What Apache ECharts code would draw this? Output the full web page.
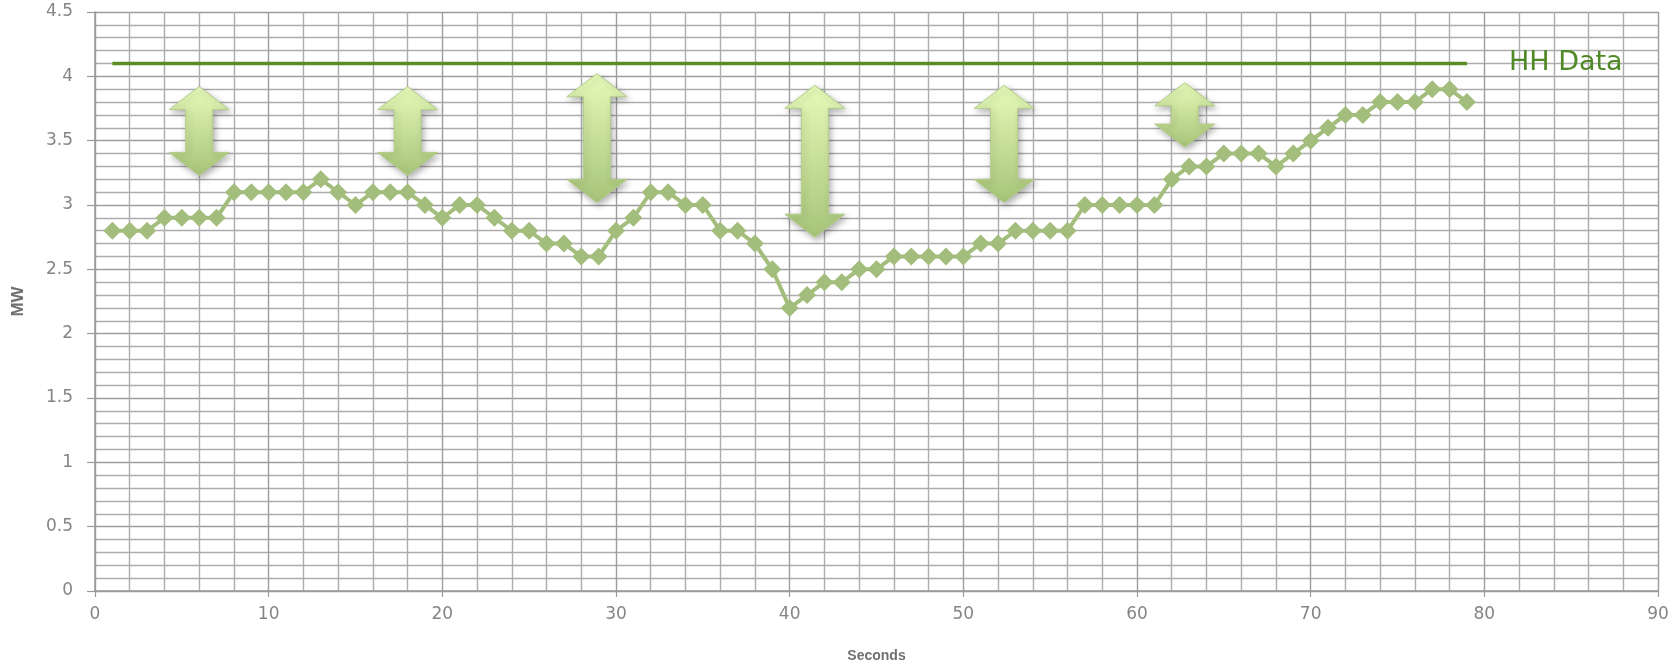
<!DOCTYPE html>
<html>
<head>
<meta charset="utf-8">
<script src="https://cdn.jsdelivr.net/npm/echarts@6/dist/echarts.min.js"></script>
<style>
html,body{margin:0;padding:0;background:#fff;}
#chart{width:1680px;height:668px;}
</style>
</head>
<body>
<div id="chart"></div>
<script>
// ---- data ----
const seconds = [1,2,3,4,5,6,7,8,9,10,11,12,13,14,15,16,17,18,19,20,
  21,22,23,24,25,26,27,28,29,30,31,32,33,34,35,36,37,38,39,40,
  41,42,43,44,45,46,47,48,49,50,51,52,53,54,55,56,57,58,59,60,
  61,62,63,64,65,66,67,68,69,70,71,72,73,74,75,76,77,78,79];
const mw = [2.8,2.8,2.8,2.9,2.9,2.9,2.9,3.1,3.1,3.1,3.1,3.1,3.2,3.1,3.0,3.1,3.1,3.1,3.0,2.9,
  3.0,3.0,2.9,2.8,2.8,2.7,2.7,2.6,2.6,2.8,2.9,3.1,3.1,3.0,3.0,2.8,2.8,2.7,2.5,2.2,
  2.3,2.4,2.4,2.5,2.5,2.6,2.6,2.6,2.6,2.6,2.7,2.7,2.8,2.8,2.8,2.8,3.0,3.0,3.0,3.0,
  3.0,3.2,3.3,3.3,3.4,3.4,3.4,3.3,3.4,3.5,3.6,3.7,3.7,3.8,3.8,3.8,3.9,3.9,3.8];
const hhValue = 4.1;
const hhLabel = 'HH Data';
// double-headed arrow annotations: seconds, top MW, bottom MW
const arrowX = [6, 18, 28.9, 41.45, 52.35, 62.75];
const arrowTop = [3.92, 3.92, 4.02, 3.93, 3.93, 3.95];
const arrowBottom = [3.23, 3.23, 3.02, 2.75, 3.02, 3.45];
const xTicks = {min: 0, max: 90, interval: 10};
const yTicks = {min: 0, max: 4.5, interval: 0.5};

const mwData = seconds.map((s, i) => [s, mw[i]]);
const hhData = seconds.map(s => [s, hhValue]);
const arrowData = arrowX.map((x, i) => [x, arrowTop[i], arrowBottom[i]]);

const chart = echarts.init(document.getElementById('chart'), null, {renderer: 'canvas'});
const gridColor = '#adadad';
const labelFont = 'DejaVu Sans, Liberation Sans, sans-serif';

function renderArrow(params, api) {
  const x = api.value(0);
  const t = api.coord([x, api.value(1)]);
  const b = api.coord([x, api.value(2)]);
  const cx = t[0], yt = t[1], yb = b[1];
  const hw = 30, sw = 13.5, hh = 23;
  const pts = [
    [cx, yt], [cx + hw, yt + hh], [cx + sw, yt + hh], [cx + sw, yb - hh],
    [cx + hw, yb - hh], [cx, yb], [cx - hw, yb - hh], [cx - sw, yb - hh],
    [cx - sw, yt + hh], [cx - hw, yt + hh]
  ];
  return {
    type: 'polygon',
    shape: {points: pts},
    style: {
      fill: new echarts.graphic.LinearGradient(0, 0, 0, 1, [
        {offset: 0, color: '#e6fab9'},
        {offset: 1, color: '#a7c478'}
      ]),
      stroke: '#b3cd88',
      lineWidth: 1,
      shadowBlur: 6,
      shadowColor: 'rgba(0,0,0,0.3)',
      shadowOffsetX: 2,
      shadowOffsetY: 3
    }
  };
}

chart.setOption({
  backgroundColor: '#ffffff',
  animation: false,
  grid: {left: 95, right: 22, top: 12, bottom: 64, containLabel: false},
  xAxis: {
    type: 'value',
    min: xTicks.min, max: xTicks.max, interval: xTicks.interval,
    name: 'Seconds',
    nameLocation: 'middle',
    nameGap: 58,
    nameTextStyle: {color: '#707070', fontWeight: 'bold', fontSize: 14, fontFamily: 'Liberation Sans, sans-serif'},
    axisLine: {show: true, lineStyle: {color: '#9a9a9a', width: 1.5}},
    axisTick: {show: true, length: 6, lineStyle: {color: '#9a9a9a', width: 1.2}},
    minorTick: {show: false, splitNumber: 5},
    axisLabel: {color: '#858585', fontSize: 17, margin: 15, fontFamily: labelFont},
    splitLine: {show: true, lineStyle: {color: '#9d9d9d', width: 1.4}},
    minorSplitLine: {show: true, lineStyle: {color: gridColor, width: 1.4}}
  },
  yAxis: {
    type: 'value',
    min: yTicks.min, max: yTicks.max, interval: yTicks.interval,
    name: 'MW',
    nameLocation: 'middle',
    nameGap: 68,
    nameRotate: 90,
    nameTextStyle: {color: '#707070', fontWeight: 'bold', fontSize: 17, fontFamily: 'Liberation Sans, sans-serif'},
    axisLine: {show: true, lineStyle: {color: '#9a9a9a', width: 1.5}},
    axisTick: {show: true, length: 8, lineStyle: {color: '#9a9a9a', width: 1.2}},
    minorTick: {show: false, splitNumber: 5},
    axisLabel: {color: '#858585', fontSize: 17, margin: 22, fontFamily: labelFont},
    splitLine: {show: true, lineStyle: {color: '#9d9d9d', width: 1.4}},
    minorSplitLine: {show: true, lineStyle: {color: gridColor, width: 1.4}}
  },
  series: [
    {
      name: 'HH',
      type: 'line',
      data: hhData,
      showSymbol: false,
      symbol: 'none',
      lineStyle: {color: '#5a8e22', width: 3.5},
      endLabel: {
        show: true,
        formatter: hhLabel,
        distance: 42,
        color: '#4f8a26',
        fontSize: 27,
        fontFamily: labelFont
      },
      z: 3
    },
    {
      name: 'MW',
      type: 'line',
      data: mwData,
      symbol: 'diamond',
      symbolSize: 18,
      lineStyle: {color: '#a3bd7c', width: 4},
      itemStyle: {color: '#a3bd7c'},
      z: 4
    },
    {
      name: 'arrows',
      type: 'custom',
      renderItem: renderArrow,
      data: arrowData,
      encode: {x: 0, y: [1, 2]},
      z: 5
    }
  ]
});
</script>
</body>
</html>
